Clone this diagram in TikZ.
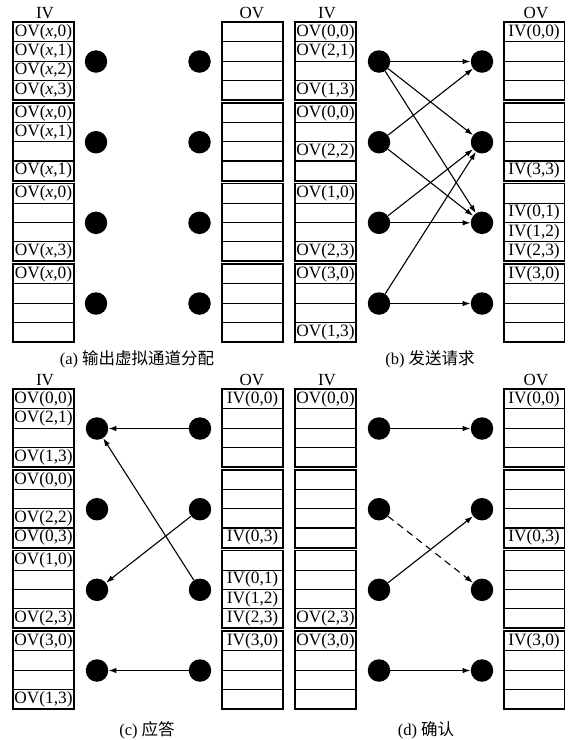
\documentclass[tikz,border=0pt]{standalone}
\usepackage{fontspec}
\setmainfont{Liberation Serif}
\newfontfamily\cjk{Noto Sans CJK SC}
\usetikzlibrary{arrows.meta}
\newcommand\ovx[1]{OV(\textit{x},#1)}
\newcommand\grp[7]{%
  \node[cellbox] (#1a) at (#2,#3) {#4};
  \node[cellbox] (#1b) at (#2,#3+19.25) {#5};
  \node[cellbox] (#1c) at (#2,#3+38.5) {#6};
  \node[cellbox] (#1d) at (#2,#3+57.75) {#7};
  \draw[grpline] (#1a.north west) rectangle (#1d.south east);
}
\begin{document}
\begin{tikzpicture}[x=1pt,y=-1pt,
  cellbox/.style={draw,line width=1.1pt,minimum width=60pt,minimum height=19.25pt,inner sep=0pt,anchor=north west,font=\fontsize{17.3}{17.3}\selectfont},
  grpline/.style={line width=1.6pt},
  dot/.style={circle,fill=black,minimum size=22.5pt,inner sep=0pt},
  arr/.style={line width=1.1pt,-{Latex[length=8pt,width=5.5pt]}},
  hd/.style={anchor=base,font=\fontsize{17}{17}\selectfont},
  captxt/.style={anchor=base,font=\fontsize{16.5}{16.5}\selectfont}]
\useasboundingbox[fill=white] (0,0) rectangle (581,740);

% ---------------- panel (a) ----------------
\node[hd] (aIV) at (45,18.5) {IV};
\node[hd] (aOV) at (252,18.5) {OV};
\grp{aI1}{13}{22}{\ovx0}{\ovx1}{\ovx2}{\ovx3}
\grp{aI2}{13}{102.67}{\ovx0}{\ovx1}{}{\ovx1}
\grp{aI3}{13}{183.33}{\ovx0}{}{}{\ovx3}
\grp{aI4}{13}{264}{\ovx0}{}{}{}
\grp{aO1}{222}{22}{}{}{}{}
\grp{aO2}{222}{102.67}{}{}{}{}
\grp{aO3}{222}{183.33}{}{}{}{}
\grp{aO4}{222}{264}{}{}{}{}
\node[dot] (aL0) at (96,61.5) {};
\node[dot] (aL1) at (96,142.2) {};
\node[dot] (aL2) at (96,222.8) {};
\node[dot] (aL3) at (96,303.5) {};
\node[dot] (aR0) at (199.5,61.5) {};
\node[dot] (aR1) at (199.5,142.2) {};
\node[dot] (aR2) at (199.5,222.8) {};
\node[dot] (aR3) at (199.5,303.5) {};
\node[captxt] (capA) at (137,364) {(a) {\cjk 输出虚拟通道分配}};

% ---------------- panel (b) ----------------
\node[hd] (bIV) at (327,18.5) {IV};
\node[hd] (bOV) at (536,18.5) {OV};
\grp{bI1}{295}{22}{OV(0,0)}{OV(2,1)}{}{OV(1,3)}
\grp{bI2}{295}{102.67}{OV(0,0)}{}{OV(2,2)}{}
\grp{bI3}{295}{183.33}{OV(1,0)}{}{}{OV(2,3)}
\grp{bI4}{295}{264}{OV(3,0)}{}{}{OV(1,3)}
\grp{bO1}{503.5}{22}{IV(0,0)}{}{}{}
\grp{bO2}{503.5}{102.67}{}{}{}{IV(3,3)}
\grp{bO3}{503.5}{183.33}{}{IV(0,1)}{IV(1,2)}{IV(2,3)}
\grp{bO4}{503.5}{264}{IV(3,0)}{}{}{}
\node[dot] (bL0) at (379,61.5) {};
\node[dot] (bL1) at (379,142.2) {};
\node[dot] (bL2) at (379,222.8) {};
\node[dot] (bL3) at (379,303.5) {};
\node[dot] (bR0) at (482,61.5) {};
\node[dot] (bR1) at (482,142.2) {};
\node[dot] (bR2) at (482,222.8) {};
\node[dot] (bR3) at (482,303.5) {};
\draw[arr] (bL0) -- (bR0);
\draw[arr] (bL0) -- (bR1);
\draw[arr] (bL0) -- (bR2);
\draw[arr] (bL1) -- (bR0);
\draw[arr] (bL1) -- (bR2);
\draw[arr] (bL2) -- (bR1);
\draw[arr] (bL2) -- (bR2);
\draw[arr] (bL3) -- (bR1);
\draw[arr] (bL3) -- (bR3);
\node[captxt] (capB) at (430,364) {(b) {\cjk 发送请求}};

% ---------------- panel (c) ----------------
\node[hd] (cIV) at (45,385) {IV};
\node[hd] (cOV) at (252,385) {OV};
\grp{cI1}{13}{389}{OV(0,0)}{OV(2,1)}{}{OV(1,3)}
\grp{cI2}{13}{469.67}{OV(0,0)}{}{OV(2,2)}{OV(0,3)}
\grp{cI3}{13}{550.33}{OV(1,0)}{}{}{OV(2,3)}
\grp{cI4}{13}{631}{OV(3,0)}{}{}{OV(1,3)}
\grp{cO1}{222}{389}{IV(0,0)}{}{}{}
\grp{cO2}{222}{469.67}{}{}{}{IV(0,3)}
\grp{cO3}{222}{550.33}{}{IV(0,1)}{IV(1,2)}{IV(2,3)}
\grp{cO4}{222}{631}{IV(3,0)}{}{}{}
\node[dot] (cL0) at (97,428.5) {};
\node[dot] (cL1) at (97,509.2) {};
\node[dot] (cL2) at (97,589.8) {};
\node[dot] (cL3) at (97,670.5) {};
\node[dot] (cR0) at (200,428.5) {};
\node[dot] (cR1) at (200,509.2) {};
\node[dot] (cR2) at (200,589.8) {};
\node[dot] (cR3) at (200,670.5) {};
\draw[arr] (cR0) -- (cL0);
\draw[arr] (cR2) -- (cL0);
\draw[arr] (cR1) -- (cL2);
\draw[arr] (cR3) -- (cL3);
\node[captxt] (capC) at (147,735) {(c) {\cjk 应答}};

% ---------------- panel (d) ----------------
\node[hd] (dIV) at (327,385) {IV};
\node[hd] (dOV) at (536,385) {OV};
\grp{dI1}{295}{389}{OV(0,0)}{}{}{}
\grp{dI2}{295}{469.67}{}{}{}{}
\grp{dI3}{295}{550.33}{}{}{}{OV(2,3)}
\grp{dI4}{295}{631}{OV(3,0)}{}{}{}
\grp{dO1}{503.5}{389}{IV(0,0)}{}{}{}
\grp{dO2}{503.5}{469.67}{}{}{}{IV(0,3)}
\grp{dO3}{503.5}{550.33}{}{}{}{}
\grp{dO4}{503.5}{631}{IV(3,0)}{}{}{}
\node[dot] (dL0) at (379,428.5) {};
\node[dot] (dL1) at (379,509.2) {};
\node[dot] (dL2) at (379,589.8) {};
\node[dot] (dL3) at (379,670.5) {};
\node[dot] (dR0) at (482,428.5) {};
\node[dot] (dR1) at (482,509.2) {};
\node[dot] (dR2) at (482,589.8) {};
\node[dot] (dR3) at (482,670.5) {};
\draw[arr] (dL0) -- (dR0);
\draw[arr] (dL2) -- (dR1);
\draw[arr,dash pattern=on 7pt off 5pt] (dL1) -- (dR2);
\draw[arr] (dL3) -- (dR3);
\node[captxt] (capD) at (426,735) {(d) {\cjk 确认}};
\end{tikzpicture}
\end{document}
